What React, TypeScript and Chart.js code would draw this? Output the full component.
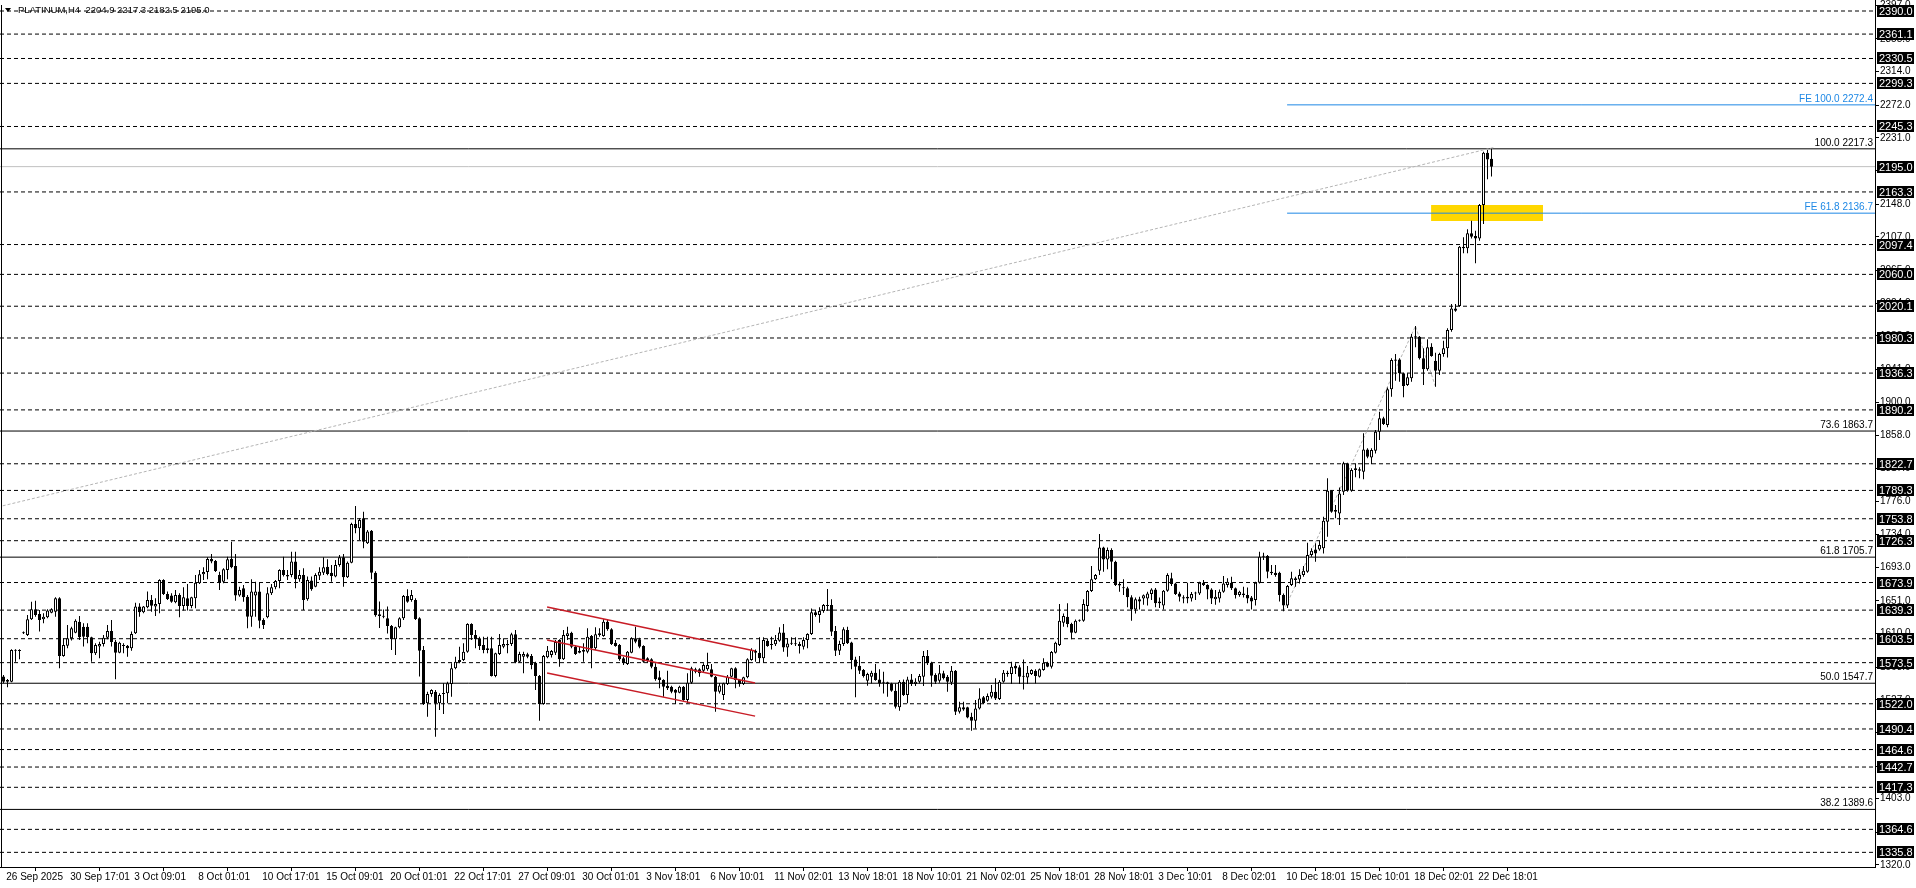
import React, { useEffect, useRef } from 'react';
import { Chart, registerables } from 'chart.js';

Chart.register(...registerables);

const OPEN = [
1556.0,1549.7,1549.7,1588.5,1589.0,1610.3,1608.2,1627.8,1640.3,1634.5,
1627.8,1630.3,1636.1,1637.4,1654.1,1581.9,1594.8,1604.0,1611.1,1624.9,
1618.6,1618.6,1605.2,1585.2,1593.6,1596.9,1604.8,1613.2,1599.8,1586.0,
1594.8,1594.8,1591.5,1610.3,1643.7,1636.6,1642.8,1652.0,1643.7,1647.0,
1677.1,1659.5,1657.5,1649.1,1658.3,1644.5,1654.1,1644.5,1654.1,1672.9,
1684.2,1687.1,1703.4,1700.9,1683.4,1675.0,1689.6,1703.4,1694.6,1657.5,
1666.6,1656.2,1631.1,1657.5,1662.5,1627.0,1630.3,1660.4,1667.9,1675.8,
1689.6,1683.4,1683.4,1700.1,1677.9,1683.4,1652.9,1676.3,1668.7,1682.5,
1686.3,1693.8,1686.3,1681.3,1695.9,1705.5,1680.4,1698.8,1747.3,1741.8,
1754.4,1723.0,1738.9,1686.0,1634.0,1632.0,1629.0,1619.4,1602.7,1617.8,
1629.0,1657.0,1652.0,1652.0,1629.0,1589.4,1522.5,1534.2,1537.1,1522.5,
1534.2,1535.1,1546.8,1566.4,1574.3,1576.8,1587.3,1621.9,1608.2,1604.0,
1595.6,1591.4,1591.4,1556.8,1584.3,1593.5,1595.2,1596.9,1609.0,1574.7,
1581.0,1583.9,1581.8,1573.5,1556.8,1521.7,1580.2,1583.1,1586.0,1601.9,
1577.7,1606.9,1611.1,1593.5,1586.0,1589.4,1587.3,1606.9,1591.4,1608.2,
1606.9,1624.9,1615.3,1598.5,1595.6,1578.9,1571.8,1586.0,1604.0,1602.7,
1594.4,1578.9,1577.7,1568.5,1555.1,1551.8,1544.7,1543.4,1539.7,1535.9,
1543.4,1526.7,1548.4,1565.1,1565.1,1563.5,1565.1,1565.1,1555.9,1537.1,
1533.0,1546.8,1555.9,1566.4,1551.8,1546.8,1555.1,1576.8,1588.5,1585.9,
1578.9,1601.0,1595.6,1596.4,1601.0,1611.4,1592.6,1597.6,1597.6,1596.8,
1593.5,1601.8,1609.3,1636.5,1633.2,1638.2,1644.4,1645.7,1613.1,1588.5,
1596.8,1614.4,1598.9,1577.6,1569.7,1564.2,1550.9,1555.9,1560.9,1552.5,
1549.6,1548.8,1547.5,1538.3,1517.5,1549.6,1532.9,1552.5,1546.7,1549.6,
1555.9,1581.8,1573.4,1558.0,1550.9,1560.1,1555.9,1548.4,1563.4,1512.0,
1517.5,1517.5,1505.8,1500.7,1516.2,1530.0,1525.8,1530.8,1537.1,1527.9,
1549.6,1560.9,1559.2,1569.7,1567.6,1556.7,1555.0,1559.2,1563.4,1555.9,
1564.2,1573.4,1568.4,1585.9,1595.6,1623.6,1631.1,1621.9,1611.0,1626.1,
1626.1,1644.4,1663.2,1677.9,1688.7,1717.9,1702.9,1714.6,1700.0,1672.0,
1667.4,1666.6,1655.3,1640.0,1653.0,1654.0,1654.0,1659.5,1665.3,1648.0,
1645.0,1663.6,1679.1,1672.8,1660.3,1655.3,1654.0,1654.0,1661.1,1660.3,
1673.7,1670.7,1665.3,1652.8,1654.0,1662.4,1670.7,1673.7,1666.6,1658.2,
1660.3,1658.2,1655.0,1652.0,1673.7,1706.2,1707.1,1687.5,1686.2,1686.2,
1658.2,1645.0,1670.7,1679.1,1677.8,1683.3,1687.5,1708.3,1715.4,1715.4,
1716.7,1750.1,1788.9,1764.7,1760.5,1787.7,1823.2,1788.9,1814.8,1815.7,
1812.8,1840.7,1830.7,1839.1,1862.9,1879.6,1871.2,1916.0,1951.9,1953.5,
1936.0,1921.4,1929.7,1981.9,1981.9,1954.8,1941.0,1969.4,1951.9,1939.3,
1960.2,1967.3,1990.3,2017.4,2020.4,2092.6,2092.6,2111.4,2108.1,2105.1,
2146.9,2212.5,2204.9
];

const HIGH = [
1558.0,1553.0,1590.2,1590.2,1590.2,1612.4,1633.2,1649.9,1651.2,1639.5,
1635.3,1640.3,1641.6,1655.4,1655.4,1604.0,1620.7,1618.6,1627.8,1632.0,
1622.8,1622.8,1606.1,1597.7,1599.8,1608.2,1620.7,1627.0,1601.9,1599.8,
1597.7,1595.6,1612.4,1648.7,1647.9,1644.5,1662.5,1658.3,1654.1,1677.9,
1677.9,1662.5,1660.4,1664.6,1660.4,1667.9,1672.1,1656.2,1683.4,1689.6,
1693.0,1705.5,1709.7,1702.2,1687.5,1691.7,1706.3,1725.1,1709.7,1668.7,
1670.8,1658.3,1677.9,1675.0,1673.7,1629.1,1667.9,1672.1,1677.1,1690.5,
1706.3,1689.6,1712.6,1712.6,1689.6,1691.7,1681.3,1681.3,1685.4,1693.0,
1705.5,1703.0,1695.9,1702.2,1708.4,1709.7,1700.1,1748.9,1769.8,1754.4,
1762.7,1739.7,1739.7,1688.0,1650.0,1640.0,1643.7,1620.7,1618.6,1630.3,
1658.3,1665.4,1664.5,1654.1,1630.3,1594.4,1537.1,1540.1,1539.2,1535.1,
1547.6,1549.7,1572.7,1581.0,1593.5,1597.7,1622.8,1622.8,1614.4,1606.1,
1606.1,1606.1,1606.1,1586.0,1609.4,1604.0,1601.9,1611.1,1614.4,1587.3,
1587.3,1586.0,1584.3,1574.7,1558.0,1583.1,1594.4,1589.4,1601.9,1602.7,
1614.4,1618.6,1612.3,1595.2,1594.4,1597.7,1616.5,1608.2,1617.8,1616.5,
1627.8,1627.8,1616.5,1601.9,1596.9,1581.0,1588.1,1605.2,1618.6,1604.8,
1595.2,1580.2,1578.9,1572.7,1563.5,1552.6,1563.5,1544.7,1540.5,1544.7,
1544.2,1560.1,1568.5,1567.2,1566.4,1572.7,1586.0,1571.8,1556.8,1548.0,
1548.4,1558.0,1567.2,1567.6,1552.6,1555.9,1578.9,1591.4,1590.1,1605.2,
1605.2,1603.9,1606.0,1608.1,1617.7,1621.9,1603.9,1605.2,1605.2,1599.7,
1605.2,1610.2,1641.5,1639.4,1642.8,1646.9,1665.7,1652.8,1619.4,1601.0,
1617.7,1618.5,1599.7,1580.9,1581.8,1565.5,1560.9,1563.4,1571.8,1565.1,
1562.1,1549.6,1548.4,1547.5,1551.7,1552.5,1555.9,1559.2,1553.8,1559.2,
1588.0,1589.3,1574.7,1560.1,1570.5,1563.4,1558.0,1569.3,1564.2,1524.6,
1524.6,1518.3,1510.8,1526.6,1541.3,1531.7,1535.0,1545.4,1553.8,1551.7,
1564.2,1563.4,1574.7,1572.6,1570.1,1577.6,1569.3,1565.1,1565.1,1566.3,
1578.9,1574.7,1588.0,1599.7,1646.9,1635.2,1647.8,1623.5,1627.7,1627.7,
1652.8,1664.5,1694.6,1684.5,1734.7,1718.8,1717.9,1716.7,1701.2,1674.9,
1677.9,1668.7,1658.0,1655.0,1656.0,1659.0,1662.4,1666.6,1667.0,1655.0,
1664.5,1685.4,1686.2,1673.7,1662.4,1658.0,1673.7,1662.0,1662.4,1674.9,
1677.0,1671.6,1666.6,1664.5,1665.3,1682.0,1679.1,1681.2,1667.8,1663.6,
1668.7,1667.8,1657.0,1675.0,1712.5,1711.2,1708.3,1695.8,1695.8,1687.5,
1660.0,1670.7,1687.5,1681.2,1690.4,1694.5,1723.8,1716.7,1723.0,1726.3,
1756.4,1804.4,1789.8,1771.0,1793.1,1825.3,1824.0,1817.0,1823.2,1818.2,
1860.8,1842.0,1842.0,1865.0,1888.0,1881.7,1918.4,1954.8,1960.2,1954.8,
1936.8,1936.0,1985.3,1995.3,1982.8,1967.3,1978.6,1973.6,1961.9,1961.9,
1976.9,1992.4,2022.9,2022.9,2095.5,2106.4,2116.4,2127.3,2114.8,2148.2,
2213.7,2215.8,2217.3
];

const LOW = [
1547.6,1542.6,1548.8,1574.7,1577.7,1609.4,1606.9,1627.0,1631.1,1612.4,
1622.8,1629.1,1635.3,1631.1,1566.4,1581.0,1591.5,1601.1,1610.3,1601.9,
1593.6,1597.7,1574.7,1583.1,1578.9,1593.6,1602.7,1593.6,1552.6,1585.2,
1585.2,1581.0,1588.5,1609.4,1631.1,1635.3,1641.6,1637.4,1632.0,1635.3,
1658.3,1652.0,1648.7,1647.9,1630.3,1638.7,1638.7,1641.6,1641.6,1672.1,
1677.1,1677.9,1698.0,1687.1,1664.6,1672.9,1677.9,1691.7,1651.2,1656.2,
1649.9,1616.5,1618.6,1631.1,1616.5,1615.7,1629.1,1658.3,1665.4,1666.6,
1681.3,1677.1,1680.4,1666.6,1675.0,1639.5,1651.2,1663.7,1667.9,1677.1,
1683.4,1683.0,1675.0,1680.4,1693.8,1668.7,1679.6,1698.0,1735.6,1727.2,
1716.8,1722.2,1677.9,1631.0,1617.0,1629.0,1610.0,1589.4,1583.1,1616.5,
1626.9,1648.7,1649.9,1626.9,1556.0,1520.4,1505.8,1530.9,1480.8,1514.2,
1509.2,1522.5,1530.9,1565.1,1572.7,1575.6,1586.0,1601.9,1591.5,1589.4,
1585.2,1585.2,1556.0,1555.1,1583.1,1591.4,1585.2,1594.4,1572.7,1573.5,
1560.1,1578.9,1565.1,1539.2,1500.8,1520.9,1578.9,1580.0,1583.1,1568.5,
1576.8,1601.9,1591.4,1583.1,1585.2,1574.7,1585.2,1566.4,1589.4,1606.1,
1606.1,1613.6,1595.6,1593.5,1576.0,1570.6,1570.6,1585.2,1597.7,1591.4,
1573.5,1573.5,1566.4,1550.9,1541.3,1530.9,1539.2,1535.1,1521.7,1535.1,
1525.9,1522.5,1546.8,1560.1,1555.9,1561.0,1563.5,1555.1,1512.1,1535.0,
1526.7,1545.5,1555.1,1541.3,1543.4,1545.5,1553.9,1576.0,1574.7,1573.4,
1573.4,1593.5,1590.1,1594.3,1599.7,1587.2,1580.9,1595.6,1594.3,1585.1,
1590.1,1591.4,1608.1,1631.1,1623.6,1636.1,1638.6,1606.8,1581.8,1583.0,
1594.3,1596.8,1565.1,1530.0,1559.2,1555.0,1544.6,1547.5,1550.9,1543.4,
1535.0,1530.8,1537.1,1516.2,1513.3,1531.7,1522.5,1544.2,1544.2,1547.5,
1544.2,1570.5,1543.4,1546.7,1548.4,1552.5,1537.1,1545.4,1507.8,1509.9,
1513.3,1503.7,1488.2,1491.1,1514.9,1521.6,1524.6,1528.7,1526.6,1526.6,
1548.4,1555.9,1546.7,1559.2,1546.7,1540.0,1546.7,1558.0,1547.5,1555.0,
1563.4,1567.6,1566.3,1585.1,1594.3,1618.5,1617.7,1602.7,1610.2,1624.8,
1624.8,1637.3,1662.0,1677.0,1683.3,1687.5,1690.4,1677.9,1669.5,1662.4,
1658.2,1642.8,1626.0,1635.0,1640.0,1646.0,1645.0,1652.0,1643.0,1642.0,
1640.0,1662.4,1669.5,1658.2,1650.0,1648.0,1648.0,1650.0,1652.0,1658.2,
1669.5,1652.8,1647.0,1646.0,1649.0,1661.1,1667.8,1664.5,1654.0,1656.0,
1655.0,1648.0,1640.0,1645.0,1672.8,1702.1,1679.1,1683.3,1681.2,1650.0,
1638.0,1642.0,1669.5,1668.7,1672.8,1681.2,1686.2,1706.2,1700.0,1713.8,
1710.4,1731.3,1761.4,1754.3,1745.9,1783.5,1787.7,1787.7,1805.7,1804.4,
1803.2,1829.5,1822.0,1835.7,1852.4,1871.2,1868.3,1906.7,1926.8,1925.5,
1905.9,1920.1,1925.5,1968.6,1953.5,1921.4,1939.3,1956.9,1919.3,1933.9,
1956.9,1956.0,1988.2,2013.2,2019.5,2086.4,2086.4,2105.1,2073.8,2102.2,
2123.1,2179.1,2182.5
];

const CLOSE = [
1549.7,1551.7,1589.4,1589.4,1588.0,1611.1,1627.8,1640.3,1633.2,1627.0,
1631.1,1638.7,1640.3,1654.1,1581.9,1595.6,1604.0,1616.5,1626.1,1605.2,
1606.1,1605.2,1585.2,1595.6,1596.9,1604.8,1613.2,1599.4,1586.0,1598.5,
1594.4,1591.5,1609.4,1643.7,1636.6,1643.7,1652.0,1644.9,1647.0,1677.1,
1659.5,1653.3,1649.9,1658.3,1644.5,1655.4,1644.5,1655.4,1673.7,1684.2,
1687.1,1703.4,1700.1,1688.4,1674.2,1690.5,1703.0,1693.0,1657.5,1664.6,
1655.4,1631.1,1662.5,1662.5,1626.1,1620.7,1660.4,1667.9,1675.8,1689.6,
1683.4,1681.3,1700.1,1677.9,1683.4,1652.0,1677.1,1665.4,1683.4,1687.5,
1693.0,1684.6,1682.1,1695.9,1705.5,1680.4,1698.8,1747.3,1741.8,1752.3,
1725.1,1737.7,1686.3,1633.0,1632.0,1631.0,1619.4,1602.7,1617.8,1629.0,
1657.0,1649.9,1658.3,1628.2,1588.5,1521.7,1534.2,1539.2,1522.5,1533.0,
1535.1,1547.6,1566.4,1574.7,1576.8,1587.3,1621.9,1608.2,1602.7,1594.4,
1589.4,1589.4,1556.8,1585.2,1595.6,1596.9,1596.9,1609.0,1573.9,1584.3,
1584.3,1581.0,1570.6,1556.8,1521.7,1581.8,1588.5,1588.1,1599.4,1577.7,
1608.2,1610.2,1593.5,1584.3,1588.1,1587.3,1606.1,1591.4,1609.0,1610.2,
1624.9,1615.3,1596.9,1594.4,1577.7,1572.7,1587.3,1604.0,1599.8,1593.5,
1574.7,1576.0,1568.5,1552.6,1551.8,1543.4,1541.3,1537.1,1535.9,1543.4,
1526.7,1548.4,1566.4,1562.2,1560.1,1570.6,1570.6,1555.9,1537.1,1545.0,
1547.6,1555.9,1566.4,1551.8,1546.8,1555.1,1577.7,1589.4,1585.9,1578.9,
1601.8,1594.3,1596.8,1601.8,1611.4,1592.6,1597.6,1597.2,1596.4,1594.3,
1601.8,1609.3,1636.5,1633.2,1638.2,1645.7,1645.7,1612.3,1588.5,1596.8,
1615.2,1597.7,1576.8,1568.4,1563.4,1556.7,1559.2,1560.9,1551.7,1547.5,
1548.4,1546.7,1538.3,1518.3,1549.6,1532.9,1552.5,1546.7,1549.6,1556.7,
1581.8,1572.6,1557.1,1549.6,1560.1,1553.8,1549.6,1563.4,1512.0,1517.5,
1514.9,1504.9,1500.7,1516.2,1528.7,1522.5,1531.7,1537.1,1528.7,1549.6,
1560.9,1559.2,1568.4,1566.3,1555.9,1555.9,1560.9,1564.2,1556.7,1565.1,
1573.4,1568.4,1586.8,1598.5,1626.1,1631.9,1621.9,1611.0,1626.1,1626.9,
1646.9,1663.2,1677.9,1683.3,1717.9,1702.9,1714.6,1700.0,1670.7,1670.3,
1666.6,1655.3,1640.0,1653.0,1650.0,1658.0,1660.3,1665.3,1648.0,1650.0,
1663.6,1683.3,1672.0,1659.5,1656.1,1654.0,1656.1,1659.5,1660.3,1673.7,
1670.7,1665.3,1654.0,1656.1,1662.4,1672.8,1674.9,1666.6,1658.2,1662.4,
1658.2,1654.0,1650.0,1673.7,1706.2,1707.1,1687.5,1685.4,1683.3,1658.2,
1645.0,1669.5,1679.1,1677.0,1683.3,1688.7,1708.3,1713.8,1710.4,1720.9,
1751.3,1788.9,1762.6,1762.6,1785.6,1823.2,1788.9,1814.8,1817.0,1814.0,
1840.7,1831.6,1839.9,1862.9,1879.6,1872.5,1916.0,1952.7,1953.5,1936.0,
1920.1,1931.0,1981.9,1981.1,1954.8,1941.0,1968.6,1957.7,1939.3,1960.2,
1967.3,1990.3,2017.4,2014.5,2094.7,2094.7,2111.4,2107.2,2105.1,2146.9,
2212.5,2204.1,2195.0
];

const X_TICK_LABELS = [
  '26 Sep 2025', '30 Sep 17:01', '3 Oct 09:01', '8 Oct 01:01', '10 Oct 17:01', '15 Oct 09:01',
  '20 Oct 01:01', '22 Oct 17:01', '27 Oct 09:01', '30 Oct 01:01', '3 Nov 18:01', '6 Nov 10:01',
  '11 Nov 02:01', '13 Nov 18:01', '18 Nov 10:01', '21 Nov 02:01', '25 Nov 18:01', '28 Nov 18:01',
  '3 Dec 10:01', '8 Dec 02:01', '10 Dec 18:01', '15 Dec 10:01', '18 Dec 02:01', '22 Dec 18:01'
];
const X_TICK_STEP = 16;

const Y_TICKS = [
  2397, 2355, 2314, 2272, 2231, 2190, 2148, 2107, 2065, 2024, 1983, 1941, 1900, 1858,
  1817, 1776, 1734, 1693, 1651, 1610, 1568, 1527, 1486, 1444, 1403, 1361, 1320
];

const LEVELS = [
  2390.0, 2361.1, 2330.5, 2299.3, 2245.3, 2163.3, 2097.4, 2060.0, 2020.1, 1980.3, 1936.3,
  1890.2, 1822.7, 1789.3, 1753.8, 1726.3, 1673.9, 1639.3, 1603.5, 1573.5, 1522.0, 1490.4,
  1464.6, 1442.7, 1417.3, 1364.6, 1335.8
];
const BID = 2195.0;

const FIBO_PCT = [100.0, 73.6, 61.8, 50.0, 38.2];
const FIBO_PRICE = [2217.3, 1863.7, 1705.7, 1547.7, 1389.6];

const FE_PCT = [100.0, 61.8];
const FE_PRICE = [2272.4, 2136.7];
const FE_START = 320.9;

const ZONE_X = [356.9, 384.9];
const ZONE_Y = [2127.0, 2147.0];

const CHANNEL_X = [135.9, 187.9];
const CHANNEL_TOP = [1643.1, 1588.0];
const CHANNEL_MID = [1601.8, 1548.0];
const CHANNEL_BOT = [1560.4, 1506.5];

const TREND_X = [-0.2, 372.6];
const TREND_Y = [1770.0, 2219.0];

const ZIGZAG_X = [320, 353, 358];
const ZIGZAG_Y = [1638.0, 1995.3, 1919.3];

const TITLE = 'PLATINUM,H4  2204.9 2217.3 2182.5 2195.0';

const X_MIN = -0.875;
const X_MAX = 467.875;
const Y_MIN = 1317.45;
const Y_MAX = 2403.8;

const FONT = "'Liberation Sans', Arial, sans-serif";
const BLUE = 'rgb(30,136,229)';

const overlayPlugin = {
  id: 'mt4Overlay',
  afterDraw(chart: any) {
    const { ctx, chartArea } = chart;
    const ys = chart.scales.y;
    ctx.save();
    // left frame
    ctx.strokeStyle = '#000';
    ctx.lineWidth = 1;
    ctx.beginPath();
    ctx.moveTo(1.5, 5);
    ctx.lineTo(1.5, chartArea.bottom);
    ctx.stroke();
    // title
    ctx.fillStyle = '#000';
    ctx.beginPath();
    ctx.moveTo(5, 8);
    ctx.lineTo(11, 8);
    ctx.lineTo(8, 12);
    ctx.closePath();
    ctx.fill();
    ctx.font = `9.5px ${FONT}`;
    ctx.textAlign = 'left';
    ctx.textBaseline = 'middle';
    ctx.fillText(TITLE, 18, 10);
    // fibo labels
    ctx.font = `10px ${FONT}`;
    ctx.textAlign = 'right';
    ctx.textBaseline = 'bottom';
    FIBO_PCT.forEach((p, k) => {
      const y = ys.getPixelForValue(FIBO_PRICE[k]);
      ctx.fillText(`${p.toFixed(1)} ${FIBO_PRICE[k].toFixed(1)}`, chartArea.right - 2, y - 1);
    });
    ctx.fillStyle = BLUE;
    FE_PCT.forEach((p, k) => {
      const y = ys.getPixelForValue(FE_PRICE[k]);
      ctx.fillText(`FE ${p.toFixed(1)} ${FE_PRICE[k].toFixed(1)}`, chartArea.right - 2, y - 1);
    });
    // boxed price labels
    ctx.font = `11px ${FONT}`;
    ctx.textAlign = 'left';
    ctx.textBaseline = 'middle';
    [...LEVELS, BID].forEach((v) => {
      const y = Math.round(ys.getPixelForValue(v));
      ctx.fillStyle = '#000';
      ctx.fillRect(chartArea.right + 2, y - 6, 37, 12);
      ctx.fillStyle = '#fff';
      ctx.fillText(v.toFixed(1), chartArea.right + 4, y + 0.5);
    });
    ctx.restore();
  },
};

function hLine(y: number, color: string, dash: number[], x0 = X_MIN, order = 15) {
  return {
    type: 'line',
    data: [{ x: x0, y }, { x: X_MAX, y }],
    borderColor: color,
    borderWidth: 1,
    borderDash: dash,
    pointRadius: 0,
    fill: false,
    tension: 0,
    order,
  };
}

export default function App() {
  const ref = useRef<HTMLCanvasElement | null>(null);

  useEffect(() => {
    document.body.style.margin = '0';
    if (!ref.current) return;

    const idx = OPEN.map((_, i) => i);
    const wicks = idx.map((i) => ({ x: i, y: [LOW[i], HIGH[i]] }));
    const bodies = idx.map((i) => ({ x: i, y: [OPEN[i], CLOSE[i]] }));
    const bodyColors = idx.map((i) => (CLOSE[i] >= OPEN[i] ? '#ffffff' : '#000000'));

    const datasets: any[] = [
      {
        type: 'line',
        data: [{ x: ZONE_X[0], y: ZONE_Y[1] }, { x: ZONE_X[1], y: ZONE_Y[1] }],
        borderWidth: 0,
        pointRadius: 0,
        fill: '+1',
        backgroundColor: '#FFD700',
        order: 30,
      },
      {
        type: 'line',
        data: [{ x: ZONE_X[0], y: ZONE_Y[0] }, { x: ZONE_X[1], y: ZONE_Y[0] }],
        borderWidth: 0,
        pointRadius: 0,
        fill: false,
        order: 30,
      },
      ...LEVELS.map((v) => hLine(v, '#000000', [4, 3])),
      hLine(BID, '#c0c0c0', []),
      ...FIBO_PRICE.map((v) => hLine(v, '#000000', [])),
      ...FE_PRICE.map((v) => hLine(v, BLUE, [], FE_START)),
      {
        type: 'line',
        data: TREND_X.map((x, k) => ({ x, y: TREND_Y[k] })),
        borderColor: '#b4b4b4',
        borderWidth: 1,
        borderDash: [3, 2],
        pointRadius: 0,
        fill: false,
        order: 14,
      },
      {
        type: 'line',
        data: ZIGZAG_X.map((x, k) => ({ x, y: ZIGZAG_Y[k] })),
        borderColor: '#b4b4b4',
        borderWidth: 1,
        borderDash: [3, 2],
        pointRadius: 0,
        fill: false,
        order: 14,
      },
      {
        type: 'bar',
        data: wicks,
        backgroundColor: '#000000',
        borderWidth: 0,
        barThickness: 1,
        grouped: false,
        inflateAmount: 0,
        order: 5,
      },
      {
        type: 'bar',
        data: bodies,
        backgroundColor: bodyColors,
        borderColor: '#000000',
        borderWidth: 1,
        borderSkipped: false,
        barThickness: 3,
        minBarLength: 1,
        grouped: false,
        inflateAmount: 0,
        order: 4,
      },
      ...[CHANNEL_TOP, CHANNEL_MID, CHANNEL_BOT].map((ys) => ({
        type: 'line',
        data: CHANNEL_X.map((x, k) => ({ x, y: ys[k] })),
        borderColor: 'rgb(200,28,38)',
        borderWidth: 1.5,
        pointRadius: 0,
        fill: false,
        order: 1,
      })),
    ];

    const chart = new Chart(ref.current, {
      type: 'bar',
      data: { datasets },
      options: {
        responsive: false,
        animation: false,
        events: [],
        layout: { padding: 0 },
        plugins: { legend: { display: false }, tooltip: { enabled: false } },
        scales: {
          x: {
            type: 'linear',
            min: X_MIN,
            max: X_MAX,
            offset: false,
            grid: { drawOnChartArea: false, drawTicks: true, tickLength: 4, color: '#000' },
            border: { display: true, color: '#000', width: 1 },
            ticks: {
              autoSkip: false,
              maxRotation: 0,
              minRotation: 0,
              align: 'start',
              padding: 0,
              color: '#000',
              font: { family: FONT, size: 10 },
              callback: (_v: any, i: number) => ' ' + (X_TICK_LABELS[i] ?? ''),
            },
            afterBuildTicks: (s: any) => {
              s.ticks = X_TICK_LABELS.map((_, k) => ({ value: k * X_TICK_STEP }));
            },
            afterFit: (s: any) => {
              s.height = 21;
              s.paddingLeft = 0;
              s.paddingRight = 0;
            },
          },
          y: {
            type: 'linear',
            position: 'right',
            min: Y_MIN,
            max: Y_MAX,
            grid: { drawOnChartArea: false, drawTicks: true, tickLength: 4, color: '#000' },
            border: { display: true, color: '#000', width: 1 },
            ticks: {
              autoSkip: false,
              padding: 1,
              color: '#000',
              font: { family: FONT, size: 10 },
              callback: (v: any) => Number(v).toFixed(1),
            },
            afterBuildTicks: (s: any) => {
              s.ticks = Y_TICKS.map((v) => ({ value: v }));
            },
            afterFit: (s: any) => {
              s.width = 41;
              s.paddingTop = 0;
              s.paddingBottom = 0;
            },
          },
        },
      } as any,
      plugins: [overlayPlugin],
    } as any);

    return () => chart.destroy();
  }, []);

  return <canvas ref={ref} width={1916} height={888} style={{ display: 'block' }} />;
}
